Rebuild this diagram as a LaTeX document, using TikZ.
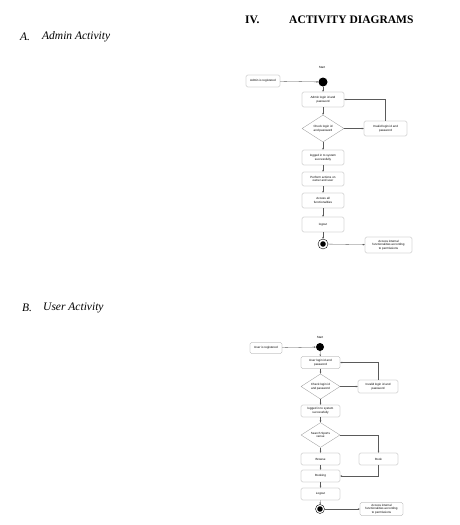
\documentclass[tikz,border=0pt]{standalone}
\usepackage{fontspec}
\setmainfont{Liberation Serif}
\setsansfont{Liberation Sans}
\usetikzlibrary{shapes.geometric,arrows.meta,positioning}
\definecolor{bd}{RGB}{150,150,150}
\definecolor{ln}{RGB}{90,90,90}
\newcommand{\actfont}{\fontsize{3}{3.6}\selectfont\sffamily}

\begin{document}
\begin{tikzpicture}[x=1pt,y=-1pt,
    blk/.style={rectangle,draw=bd,rounded corners=1.5pt,minimum height=15pt,minimum width=42pt,font=\actfont,align=center,line width=0.3pt,inner sep=0.5pt},
    dec/.style={diamond,draw=bd,minimum height=27pt,minimum width=42pt,font=\actfont,align=center,line width=0.3pt,inner sep=0pt},
    startdot/.style={circle,fill=black,minimum size=9pt,inner sep=0pt},
    enddot/.style={circle,draw=black,fill=white,line width=0.4pt,minimum size=9pt,inner sep=0pt,path picture={\fill[black] (path picture bounding box.center) circle (2.8pt);}},
    arr/.style={-{Stealth[length=2pt,width=1.6pt]},draw=ln,line width=0.3pt},
    hd/.style={font=\fontsize{11.5}{13}\selectfont\bfseries,inner sep=0pt,anchor=west},
    sub/.style={font=\fontsize{11.5}{13}\selectfont\itshape,inner sep=0pt,anchor=west},
]
\useasboundingbox[fill=white] (0,0) rectangle (460,525);

% headings
\node[hd] (secnum) at (245,20) {IV.};
\node[hd] (sectitle) at (289,20) {ACTIVITY DIAGRAMS};
\node[sub] (alabel) at (20,36.5) {A.};
\node[sub] (atitle) at (42,36.5) {Admin Activity};
\node[sub] (blabel) at (22,307.5) {B.};
\node[sub] (btitle) at (43,307.5) {User Activity};

% admin activity
\node[font=\actfont] (astartlbl) at (322,67) {Start};
\node[startdot] (astart) at (323,82) {};
\node[blk,minimum width=34pt,minimum height=12pt] (areg) at (263,81) {Admin is registered};
\node[blk] (alogin) at (323,99.5) {Admin login id and\\password};
\node[dec] (acheck) at (323,128.5) {Check login id\\and password};
\node[blk,minimum width=43pt] (ainvalid) at (385.5,128.5) {Invalid login id and\\password};
\node[blk] (alogged) at (323,157.5) {logged in to system\\successfully};
\node[blk,minimum height=14pt] (aperform) at (323,179) {Perform actions on\\owner and user};
\node[blk] (aaccess) at (323,200.5) {Access all\\functionalities};
\node[blk] (alogout) at (323,224.5) {logout};
\node[enddot,minimum size=10pt] (aend) at (323,244) {};
\node[blk,minimum width=47pt,minimum height=16pt] (ainternal) at (388.5,245) {Access internal\\functionalities according\\to permissions};

\draw[arr] (areg) -- (astart);
\draw[arr] (astart) -- (alogin);
\draw[arr] (alogin) -- (acheck);
\draw[arr] (acheck) -- (ainvalid);
\draw[arr] (ainvalid.north) |- (alogin.east);
\draw[arr] (acheck) -- (alogged);
\draw[arr] (alogged) -- (aperform);
\draw[arr] (aperform) -- (aaccess);
\draw[arr] (aaccess) -- (alogout);
\draw[arr] (alogout) -- (aend);
\draw[arr] (aend) -- (ainternal);

% user activity
\node[font=\actfont] (ustartlbl) at (320,337) {Start};
\node[startdot,minimum size=8pt] (ustart) at (320,347) {};
\node[blk,minimum width=32pt,minimum height=11pt] (ureg) at (266,348) {User is registered};
\node[blk,minimum width=39pt,minimum height=12pt] (ulogin) at (320.5,362.5) {User login id and\\password};
\node[dec,minimum width=39pt,minimum height=23pt] (ucheck) at (320.5,386.5) {Check login id\\and password};
\node[blk,minimum width=40pt,minimum height=13pt] (uinvalid) at (378,386.5) {Invalid login id and\\password};
\node[blk,minimum width=39pt,minimum height=12pt] (ulogged) at (320.5,411) {logged in to system\\successfully};
\node[dec,minimum width=39pt,minimum height=24pt] (usearch) at (320.5,435) {Search Sports\\venue};
\node[blk,minimum width=39pt,minimum height=12pt] (ubrowse) at (320.5,459) {Browse};
\node[blk,minimum width=39pt,minimum height=12pt] (ubook) at (378.5,459) {Book};
\node[blk,minimum width=39pt,minimum height=12pt] (ubooking) at (320.5,476) {Booking};
\node[blk,minimum width=39pt,minimum height=12pt] (ulogout) at (320.5,494) {Logout};
\node[enddot] (uend) at (320,509) {};
\node[blk,minimum width=43pt,minimum height=13pt] (uinternal) at (381.5,509) {Access internal\\functionalities according\\to permissions};

\draw[arr] (ureg) -- (ustart);
\draw[arr] (ustart) -- (ulogin);
\draw[arr] (ulogin) -- (ucheck);
\draw[arr] (ucheck) -- (uinvalid);
\draw[arr] (uinvalid.north) |- (ulogin.east);
\draw[arr] (ucheck) -- (ulogged);
\draw[arr] (ulogged) -- (usearch);
\draw[arr] (usearch) -- (ubrowse);
\draw[arr] (usearch.east) -| (ubook.north);
\draw[arr] (ubrowse) -- (ubooking);
\draw[arr] (ubook.south) |- (ubooking.east);
\draw[arr] (ubooking) -- (ulogout);
\draw[arr] (ulogout) -- (uend);
\draw[arr] (uend) -- (uinternal);
\end{tikzpicture}
\end{document}
